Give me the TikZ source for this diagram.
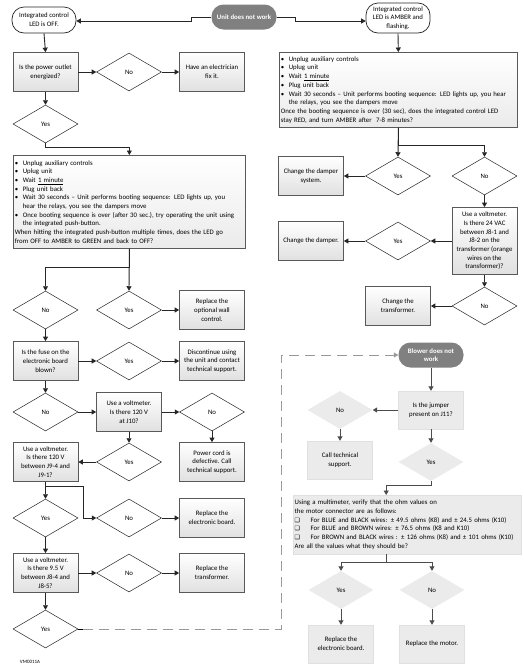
\documentclass[tikz,border=0pt]{standalone}
\usepackage{fontspec}
\setmainfont{Carlito}
\newfontfamily\symfont{DejaVu Sans}
\usetikzlibrary{shapes.geometric,arrows.meta,positioning}

\newcommand\fs{\fontsize{6.8}{8.7}\selectfont}
\newcommand\itm{\makebox[8pt][l]{\textbullet}}
\newcommand\ind{\hspace*{8pt}}
\newcommand\chk{\makebox[16pt][l]{{\symfont\fontsize{6}{8}\selectfont ❑}}}

\begin{document}
\begin{tikzpicture}[x=1pt,y=-1pt,font=\fs,
		box/.style={draw=black!65,line width=0.7pt,top color=white,bottom color=black!12,minimum width=65pt,minimum height=39pt,inner sep=1pt,align=center},
		dia/.style={diamond,draw=black!85,line width=0.5pt,fill=white,minimum width=65pt,minimum height=38pt,inner sep=0pt},
		led/.style={draw=black!85,line width=0.7pt,fill=white,rounded corners=12pt,minimum width=64pt,inner sep=1pt,align=center},
		term/.style={fill=black!50,text=white,font=\fs\bfseries,rounded corners=12pt,minimum width=65pt,minimum height=25pt,inner sep=1pt,align=center},
		wide/.style={draw=black!65,line width=0.7pt,top color=white,bottom color=black!8,align=left,inner sep=1.5pt,anchor=north west},
		gbox/.style={fill=black!8,draw=black!12,minimum width=65pt,minimum height=38pt,inner sep=1pt,align=center},
		gwide/.style={fill=black!8,draw=black!12,align=left,inner sep=1.5pt,anchor=north west},
		gdia/.style={diamond,fill=black!8,minimum width=65pt,minimum height=38pt,inner sep=0pt},
		arr/.style={draw=black!85,line width=0.9pt,-{Triangle[length=4.5pt,width=5pt]}},
		garr/.style={arr,draw=black!70},
		dsh/.style={draw=black!40,line width=1pt,dash pattern=on 10pt off 6pt,-{Triangle[length=4.5pt,width=5pt]}}]
		\useasboundingbox (0,0) rectangle (524,667);
		% start
		\node[term] (unit) at (244,17) {Unit does not work};
		\node[led,minimum height=26pt] (off) at (44,20) {Integrated control\\LED is OFF.};
		\node[led,minimum height=30pt] (amber) at (398,18) {Integrated control\\LED is AMBER and\\flashing.};
		\draw[arr] (unit.west) -- ++(-20,0) |- ([yshift=-1pt]off.east);
		\draw[arr] (unit.east) -- ++(19,0) |- ([yshift=-3pt]amber.west);
		% LED is OFF
		\node[box] (outlet) at (45.5,72) {Is the power outlet\\energized?};
		\node[dia] (no1) at (129,72) {No};
		\node[box] (elec) at (212,72) {Have an electrician\\fix it.};
		\node[dia] (yes1) at (45.5,124) {Yes};
		\node[wide,text width=229pt,minimum height=93pt] (boot1) at (13,155) {%
			\itm Unplug auxiliary controls\\
			\itm Uplug unit\\
			\itm Wait \underline{1 minute}\\
			\itm Plug unit back\\
			\itm Wait 30 seconds -- Unit performs booting sequence: LED lights up, you\\
			\ind hear the relays, you see the dampers move\\
			\itm Once booting sequence is over (after 30 sec.), try operating the unit using\\
			\ind the integrated push-button.\\
			When hitting the integrated push-button multiple times, does the LED go\\
			from OFF to AMBER to GREEN and back to OFF?};
		\draw[arr] (off.south) -- (outlet.north);
		\draw[arr] (outlet) -- (no1);
		\draw[arr] (no1) -- (elec);
		\draw[arr] (outlet.south) -- (yes1.north);
		\draw[arr] (yes1.south) -- ++(0,4) -| (boot1.north);

		\node[dia] (no2) at (45.5,310) {No};
		\node[dia] (yes2) at (129,310) {Yes};
		\node[box] (wall) at (212,310) {Replace the\\optional wall\\control.};
		\node[box] (fuse) at (45.5,361) {Is the fuse on the\\electronic board\\blown?};
		\node[dia] (yes3) at (129,361) {Yes};
		\node[box] (disc) at (212,361) {Discontinue using\\the unit and contact\\technical support.};
		\node[dia] (no3) at (45.5,412) {No};
		\node[box] (v120) at (129,412) {Use a voltmeter.\\Is there 120 V\\at J10?};
		\node[dia] (no4) at (212,412) {No};
		\node[box] (cord) at (212,462) {Power cord is\\defective. Call\\technical support.};
		\node[dia] (yes4) at (129,462) {Yes};
		\node[box] (j9) at (45.5,462) {Use a voltmeter.\\Is there 120 V\\between J9-4 and\\J9-1?};
		\node[dia] (yes5) at (45.5,518) {Yes};
		\node[dia] (no5) at (129,518) {No};
		\node[box] (board1) at (212,518) {Replace the\\electronic board.};
		\node[box] (v95) at (45.5,573) {Use a voltmeter.\\Is there 9.5 V\\between J8-4 and\\J8-5?};
		\node[dia] (no6) at (129,573) {No};
		\node[box] (trans1) at (212,573) {Replace the\\transformer.};
		\node[dia] (yes6) at (45.5,629) {Yes};
		\draw[arr] (boot1.south) -- ++(0,19) -| (no2.north);
		\draw[arr] (boot1.south) -- (yes2.north);
		\draw[arr] (yes2) -- (wall);
		\draw[arr] (no2.south) -- (fuse.north);
		\draw[arr] (fuse) -- (yes3);
		\draw[arr] (yes3) -- (disc);
		\draw[arr] (fuse.south) -- (no3.north);
		\draw[arr] (no3) -- (v120);
		\draw[arr] (v120) -- (no4);
		\draw[arr] (no4.south) -- (cord.north);
		\draw[arr] (v120.south) -- (yes4.north);
		\draw[arr] (yes4) -- (j9);
		\draw[arr] (j9.south) -- (yes5.north);
		\draw[arr] (j9.south) -- ++(0,5) -- ++(37.5,0) |- (no5.west);
		\draw[arr] (no5) -- (board1);
		\draw[arr] (yes5.south) -- (v95.north);
		\draw[arr] (v95) -- (no6);
		\draw[arr] (no6) -- (trans1);
		\draw[arr] (v95.south) -- (yes6.north);

		% LED is AMBER
		\node[wide,text width=235pt,minimum height=75pt] (boot2) at (279,52) {%
			\itm Unplug auxiliary controls\\
			\itm Uplug unit\\
			\itm Wait \underline{1 minute}\\
			\itm Plug unit back\\
			\itm Wait 30 seconds -- Unit performs booting sequence: LED lights up, you hear\\
			\ind the relays, you see the dampers move\\
			Once the booting sequence is over (30 sec), does the integrated control LED\\
			stay RED, and turn AMBER after~ 7-8 minutes?};
		\node[dia] (yesR1) at (398,176) {Yes};
		\node[dia] (noR1) at (484.5,176) {No};
		\node[box] (damp1) at (311,176) {Change the damper\\system.};
		\node[box,minimum height=67pt] (v24) at (484.5,241) {Use a voltmeter.\\Is there 24 VAC\\between J8-1 and\\J8-2 on the\\transformer (orange\\wires on the\\transformer)?};
		\node[dia] (yesR2) at (398,241) {Yes};
		\node[box] (damp2) at (311,241) {Change the damper.};
		\node[dia] (noR2) at (484.5,306) {No};
		\node[box] (transR) at (398,306) {Change the\\transformer.};
		\draw[arr] (amber.south) -- (boot2.north);
		\draw[arr] (boot2.south) -- ++(0,18) -| (noR1.north);
		\draw[arr] (boot2.south) -- (yesR1.north);
		\draw[arr] (yesR1) -- (damp1);
		\draw[arr] (noR1.south) -- (v24.north);
		\draw[arr] (v24) -- (yesR2);
		\draw[arr] (yesR2) -- (damp2);
		\draw[arr] (v24.south) -- (noR2.north);
		\draw[arr] (noR2) -- (transR);

		% blower
		\node[term] (blow) at (431,355) {Blower does not\\work};
		\node[gbox] (jump) at (431,410) {Is the jumper\\present on J11?};
		\node[gdia] (noB1) at (340,410) {No};
		\node[gbox] (call) at (340,460) {Call technical\\support.};
		\node[gdia] (yesB1) at (431,462) {Yes};
		\node[gwide,text width=225pt,minimum height=59pt] (meter) at (293,495) {%
			Using a multimeter, verify that the ohm values on\\
			the motor connector are as follows:\\
			\chk For BLUE and BLACK wires: ± 49.5 ohms (K8) and ± 24.5 ohms (K10)\\
			\chk For BLUE and BROWN wires: ± 76.5 ohms (K8 and K10)\\
			\chk For BROWN and BLACK wires : ± 126 ohms (K8) and ± 101 ohms (K10)\\
			Are all the values what they should be?};
		\node[gdia] (yesB2) at (341,590) {Yes};
		\node[gdia] (noB2) at (432,590) {No};
		\node[gbox] (board2) at (341,644) {Replace the\\electronic board.};
		\node[gbox] (motor) at (432,644) {Replace the motor.};
		\draw[garr] (blow.south) -- (jump.north);
		\draw[garr] (jump) -- (noB1);
		\draw[garr] (noB1.south) -- (call.north);
		\draw[garr] (jump.south) -- (yesB1.north);
		\draw[garr] (yesB1.south) -- ++(0,4) -| ([xshift=-21pt]meter.north);
		\draw[garr] ([xshift=-21pt]meter.south) -- ++(0,8) -| (yesB2.north);
		\draw[garr] ([xshift=-21pt]meter.south) -- ++(0,8) -| (noB2.north);
		\draw[garr] (yesB2.south) -- (board2.north);
		\draw[garr] (noB2.south) -- (motor.north);

		% link to blower
		\coordinate (bend) at (281,629);
		\draw[line width=0.7pt] (yes6.east) -- ++(5,0);
		\draw[dsh] ([xshift=5pt]yes6.east) -- (bend) |- (blow.west);

		\node[font=\fontsize{5}{6}\selectfont] (ref) at (30,662) {VM0011A};
	\end{tikzpicture}
\end{document}
